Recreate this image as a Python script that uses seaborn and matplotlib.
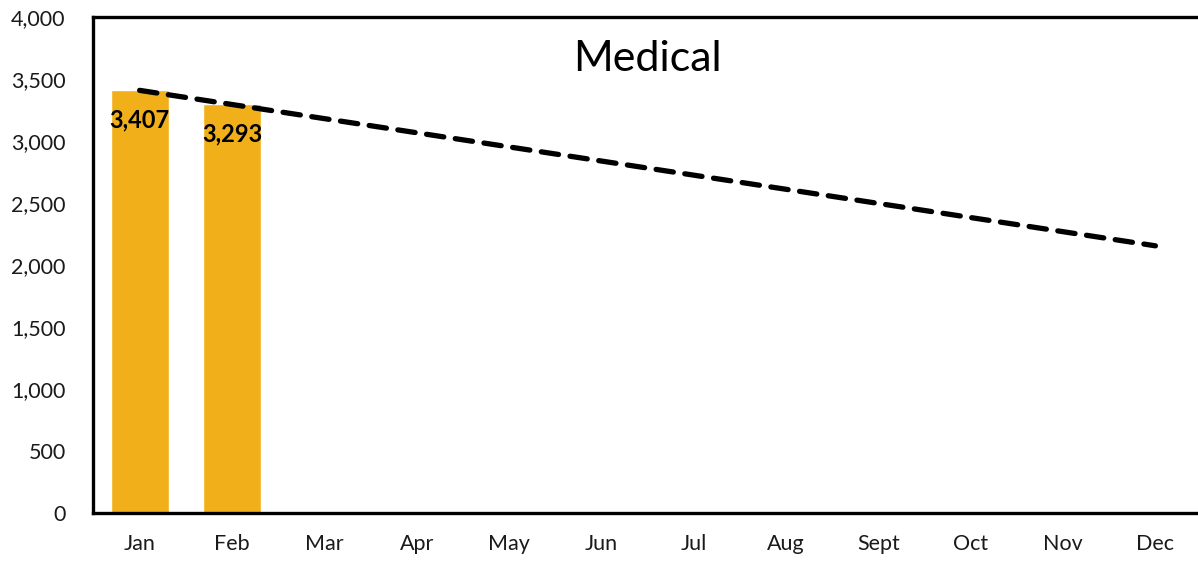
import numpy as np
import pandas as pd
import matplotlib
matplotlib.use("Agg")
import matplotlib.pyplot as plt
import seaborn as sns

months = ["Jan", "Feb", "Mar", "Apr", "May", "Jun", "Jul", "Aug", "Sept", "Oct", "Nov", "Dec"]
medical = [3407, 3293]
y_ticks = [0, 500, 1000, 1500, 2000, 2500, 3000, 3500, 4000]

sns.set_theme(style="white")
plt.rcParams["font.family"] = ["Lato", "DejaVu Sans"]

df = pd.DataFrame({"month": months[:len(medical)], "value": medical})

fig = plt.figure(figsize=(11.98, 5.61), dpi=100)
ax = fig.add_axes([0.078, 0.086, 0.925, 0.884])

sns.barplot(data=df, x="month", y="value", order=months, color="#F1B01A",
            saturation=1, width=0.63, ax=ax)

# linear trend through the recorded months, extended over the year
idx = np.arange(len(medical))
slope, intercept = np.polyfit(idx, medical, 1)
xs = np.arange(len(months))
ax.plot(xs, slope * xs + intercept, color="black", lw=3.8,
        linestyle=(0, (3.3, 2.2)), dash_capstyle="round", zorder=3)

for i, v in enumerate(medical):
    ax.text(i, v - 240, f"{v:,}", ha="center", va="center",
            fontsize=17, fontweight="bold", color="black", zorder=4)

ax.text(0.5, 0.915, "Medical", transform=ax.transAxes, ha="center", va="center",
        fontsize=31, color="black")

ax.set_ylim(0, 4000)
ax.set_xlim(-0.5, len(months) - 0.5)
ax.set_yticks(y_ticks)
ax.set_yticklabels([f"{t:,}" for t in y_ticks])
ax.tick_params(axis="both", length=0, labelsize=15.5, colors="#1a1a1a")
ax.tick_params(axis="y", pad=20)
ax.tick_params(axis="x", pad=15)
ax.set_xlabel("")
ax.set_ylabel("")
for side in ["left", "top", "bottom"]:
    ax.spines[side].set_color("black")
    ax.spines[side].set_linewidth(2.4)
ax.spines["right"].set_visible(False)
for lbl in ax.get_yticklabels():
    lbl.set_horizontalalignment("right")

fig.savefig("out.png", dpi=100, facecolor="white")
